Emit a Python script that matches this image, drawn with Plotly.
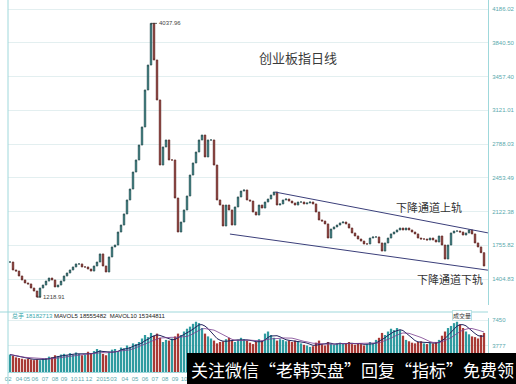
import plotly.graph_objects as go
import pandas as pd

W, H = 516, 384

# ---------------- data ----------------
closes = [
    1580, 1498, 1487, 1436, 1395, 1364, 1354, 1312, 1281, 1219,
    1312, 1343, 1384, 1415, 1395, 1323, 1343, 1384, 1436, 1467,
    1498, 1529, 1560, 1560, 1529, 1529, 1508, 1487, 1539, 1580,
    1663, 1539, 1477, 1632, 1735, 1755, 1889, 1961, 2075, 2219,
    2332, 2507, 2631, 2785, 2971, 3352, 3609, 4038, 3661, 3249,
    2579, 2765, 2837, 2631, 2631, 2239, 1889, 1992, 2116, 2260,
    2476, 2600, 2713, 2837, 2888, 2662, 2837, 2837, 2579, 2219,
    2167, 1951, 2167, 2116, 1961, 2147, 2250, 2311, 2322, 2219,
    2208, 2095, 2064, 2167, 2136, 2198, 2229, 2270, 2301, 2167,
    2178, 2219, 2229, 2208, 2188, 2167, 2198, 2198, 2178, 2188,
    2198, 2178, 2095, 2013, 2002, 1972, 1827, 1920, 1941, 1961,
    1982, 1992, 1972, 1930, 1879, 1848, 1817, 1796, 1766, 1766,
    1827, 1838, 1838, 1776, 1693, 1776, 1827, 1869, 1889, 1910,
    1930, 1910, 1930, 1910, 1889, 1869, 1827, 1817, 1817, 1807,
    1827, 1807, 1786, 1848, 1755, 1611, 1755, 1879, 1899, 1899,
    1889, 1858, 1879, 1910, 1869, 1776, 1735, 1676, 1539,
]
volumes = [
    2500, 2300, 2100, 2000, 1900, 1800, 1900, 1800, 1700, 1800,
    1700, 1900, 2000, 2200, 2100, 2400, 2300, 2500, 2600, 2400,
    2700, 2500, 2800, 2600, 2400, 2500, 2900, 2700, 3000, 3300,
    3100, 2600, 2400, 2900, 3200, 3300, 3000, 3500, 3400, 3800,
    3600, 4100, 4000, 4300, 4800, 5300, 5000, 5600, 5200, 5500,
    4900, 4300, 4600, 4500, 4800, 5100, 5500, 5300, 5800, 6200,
    6500, 6900, 7200, 7000, 6300, 5500, 5100, 4800, 4500, 4100,
    4300, 4400, 4700, 4900, 4500, 4300, 4600, 4900, 4700, 4500,
    4200, 4000, 4300, 4700, 4500, 5500, 5800, 5300, 4900, 4500,
    4700, 4600, 4400, 4500, 4300, 4500, 4400, 4100, 3900, 3800,
    3600, 3700, 4200, 4500, 4000, 3800, 4300, 4000, 3900, 4100,
    4200, 4000, 4100, 4300, 4000, 3900, 4100, 4000, 3800, 4000,
    4300, 4100, 4600, 4900, 5600, 5300, 5800, 6200, 6000, 6300,
    6000, 5200, 4600, 4400, 4200, 4100, 4300, 4400, 4100, 4000,
    4200, 4100, 4300, 4600, 5200, 5800, 6300, 6600, 7000, 7200,
    6800, 6300, 5800, 5400, 5100, 5000, 4800, 5300, 5600,
]
assert len(closes) == len(volumes)

price_ticks = [4186.02, 3838.37, 3490.72, 3143.07, 2795.42, 2447.77, 2100.12, 1752.47, 1404.82]
price_tick_labels = ["4186.02", "3840.50", "3457.40", "3121.01", "2788.03",
                     "2453.49", "2122.38", "1755.82", "1404.83"]
vol_ticks = [3777, 7450]
vol_tick_labels = ["3777", "7450"]

date_tick_pos = [-0.6, 3, 5.6, 8.3, 11.7, 15, 18, 21.3, 23.7, 26.3, 31, 34.5, 38.3, 41.7, 45, 48.3, 51.7, 55, 58]
date_tick_labels = ["02", "04", "05", "06", "07", "08", "09", "10", "11", "12", "2015",
                    "03", "04", "05", "06", "07", "08", "09", "10"]

peak_label = "4037.96"
low_label = "1218.91"
channel_upper_x = [88.3, 159.3]
channel_upper_y = [2301, 1880]
channel_lower_x = [73.3, 159.3]
channel_lower_y = [1868, 1496]

# ------------- derived OHLC -------------
n = len(closes)
idx = list(range(n))
opens = [closes[0]] + closes[:-1]
highs = [max(o, c) for o, c in zip(opens, closes)]
lows = [min(o, c) for o, c in zip(opens, closes)]
UPC = "#2f9ba0"     # rising candles (teal in this theme)
DNC = "#a83a36"     # falling candles (dark red)
vol_colors = [UPC if c >= o else DNC for o, c in zip(opens, closes)]
vs = pd.Series(volumes)
ma5 = vs.rolling(5, min_periods=1).mean()
ma10 = vs.rolling(10, min_periods=1).mean()

fig = go.Figure()
fig.add_trace(go.Candlestick(
    x=idx, open=opens, high=highs, low=lows, close=closes,
    increasing=dict(line=dict(color="#284a4c", width=0.8), fillcolor=UPC),
    decreasing=dict(line=dict(color="#5e2826", width=0.8), fillcolor=DNC),
    whiskerwidth=0, xaxis="x", yaxis="y", showlegend=False, hoverinfo="skip"))

for xs, ys in ((channel_upper_x, channel_upper_y), (channel_lower_x, channel_lower_y)):
    fig.add_trace(go.Scatter(x=xs, y=ys, mode="lines", line=dict(color="#3b3f7a", width=1),
                             xaxis="x", yaxis="y", showlegend=False, hoverinfo="skip"))

fig.add_trace(go.Bar(x=idx, y=volumes, marker=dict(color=vol_colors, line=dict(width=0)),
                     width=0.75, xaxis="x2", yaxis="y2", showlegend=False, hoverinfo="skip"))
fig.add_trace(go.Scatter(x=idx, y=ma5, mode="lines", line=dict(color="#23235e", width=1),
                         xaxis="x2", yaxis="y2", showlegend=False, hoverinfo="skip"))
fig.add_trace(go.Scatter(x=idx, y=ma10, mode="lines", line=dict(color="#7a3f8f", width=0.8),
                         xaxis="x2", yaxis="y2", showlegend=False, hoverinfo="skip"))

AX = "#9fd8db"
GRID = "#e3eff0"
TICKF = dict(family="Liberation Sans, Arial", size=6, color="#5aa9ad")
xl, xr = 8 / W, 488 / W
xrange = [-0.67, 159.33]

fig.update_layout(
    width=W, height=H, margin=dict(l=0, r=0, t=0, b=0),
    paper_bgcolor="white", plot_bgcolor="white",
    xaxis=dict(domain=[xl, xr], range=xrange, showticklabels=False, showgrid=False,
               zeroline=False, rangeslider=dict(visible=False), anchor="y",
               showline=False, fixedrange=True),
    yaxis=dict(domain=[1 - 305 / H, 1], range=[1137.2, 4278.7], side="right",
               tickvals=price_ticks, ticktext=price_tick_labels, tickfont=TICKF,
               gridcolor=GRID, gridwidth=1, showline=True, linecolor=AX, linewidth=1,
               zeroline=False, ticks="", anchor="x", ticklabelstandoff=2, automargin=False),
    xaxis2=dict(domain=[xl, xr], range=xrange, anchor="y2", showgrid=False, zeroline=False,
                tickvals=date_tick_pos, ticktext=date_tick_labels, tickfont=TICKF,
                tickangle=0, ticks="", showline=True, linecolor=AX, linewidth=1,
                ticklabelstandoff=1, automargin=False),
    yaxis2=dict(domain=[(H - 372) / H, 66 / H], range=[0, 7737], side="right", anchor="x2",
                tickvals=vol_ticks, ticktext=vol_tick_labels, tickfont=TICKF,
                gridcolor=GRID, showline=True, linecolor=AX, linewidth=1, zeroline=False,
                ticks="", ticklabelstandoff=2, automargin=False),
    font=dict(family="Noto Sans CJK SC"),
)

# frame lines
fig.add_shape(type="line", xref="paper", yref="paper", x0=xl, x1=xl, y0=0, y1=1,
              line=dict(color=AX, width=1))
fig.add_shape(type="line", xref="paper", yref="paper", x0=0, x1=xr, y0=1 - 312 / H, y1=1 - 312 / H,
              line=dict(color=AX, width=1))

# peak / low labels
fig.add_annotation(x=closes.index(max(closes)), y=max(closes), xref="x", yref="y",
                   text=peak_label, showarrow=True, arrowhead=0, arrowwidth=0.8, arrowcolor="#333",
                   ax=6, ay=0, xanchor="left", font=dict(size=6, color="#444", family="Liberation Sans"))
fig.add_annotation(x=closes.index(min(closes)), y=min(closes), xref="x", yref="y",
                   text=low_label, showarrow=True, arrowhead=0, arrowwidth=0.8, arrowcolor="#333",
                   ax=4, ay=0, xanchor="left", font=dict(size=6, color="#444", family="Liberation Sans"))

def px(xp, yp, text, size, color="#333", anchor="center", family="Noto Sans CJK SC"):
    fig.add_annotation(x=xp / W, y=1 - yp / H, xref="paper", yref="paper", text=text,
                       showarrow=False, xanchor=anchor, yanchor="middle",
                       font=dict(size=size, color=color, family=family))

px(298, 57, "创业板指日线", 13, "#3a3a3a")
px(429, 207, "下降通道上轨", 11, "#333")
px(450, 279, "下降通道下轨", 11, "#333")

# volume header
fig.add_annotation(x=10 / W, y=1 - 316 / H, xref="paper", yref="paper", showarrow=False,
                   xanchor="left", yanchor="middle",
                   text="<span style='color:#3aa8ad'>总手 18182713</span> MAVOL5 18555482  MAVOL10 15344811",
                   font=dict(size=6, color="#222", family="Liberation Sans, Noto Sans CJK SC"))
fig.add_annotation(x=462 / W, y=1 - 315 / H, xref="paper", yref="paper", showarrow=False,
                   text="成交量", xanchor="center", yanchor="middle", bordercolor="#b9e1e3",
                   borderwidth=1, borderpad=0, bgcolor="white",
                   font=dict(size=6, color="#333", family="Noto Sans CJK SC"))

# banner
fig.add_shape(type="rect", xref="paper", yref="paper", x0=187 / W, x1=1, y0=0, y1=(H - 353) / H,
              fillcolor="black", line=dict(width=0), layer="above")
fig.add_annotation(x=189 / W, y=(H - 369) / H, xref="paper", yref="paper", showarrow=False,
                   xanchor="left", yanchor="middle",
                   text="关注微信“老韩实盘”回复“指标”免费领",
                   font=dict(size=17, color="white", family="Noto Sans CJK SC"))

fig.write_html("out.html", config={"displayModeBar": False},
               post_script="document.body.style.margin='0';document.body.style.overflow='hidden';")
